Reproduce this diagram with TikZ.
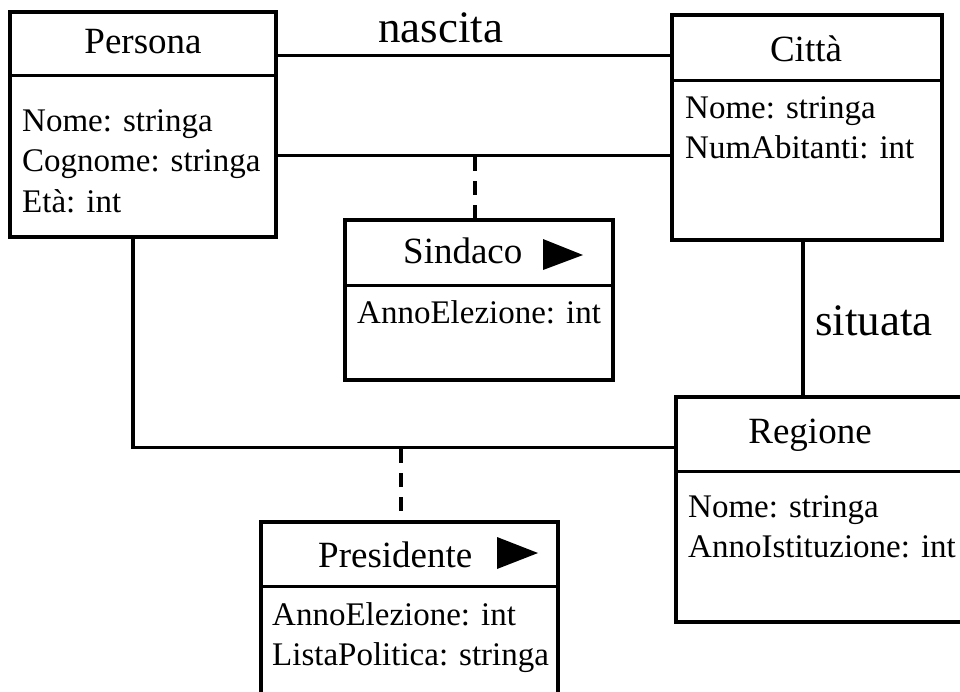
\documentclass[tikz,border=0pt]{standalone}
\usepackage{fontspec}
\setmainfont{Liberation Serif}
\begin{document}
\begin{tikzpicture}[x=1pt,y=-1pt,
  box/.style={draw, line width=3.5pt, inner sep=0pt},
  conn/.style={line width=3.5pt},
  dep/.style={line width=3.5pt, dash pattern=on 14pt off 10pt},
  title/.style={font=\fontsize{37}{44}\selectfont, inner sep=0pt, anchor=base},
  titlew/.style={font=\fontsize{37}{44}\selectfont, inner sep=0pt, anchor=base west},
  attr/.style={font=\fontsize{33}{40}\selectfont, inner sep=0pt, anchor=base west},
  lbl/.style={font=\fontsize{45}{54}\selectfont, inner sep=0pt, anchor=base west}]
\useasboundingbox (0,0) rectangle (960,691);
\fill[white] (0,0) rectangle (960,691);
\clip (0,0) rectangle (960,691);

% class boxes
\node[box, minimum width=266pt, minimum height=225pt] (persona) at (143,124.5) {};
\node[box, minimum width=270pt, minimum height=225pt] (citta) at (807,127.5) {};
\node[box, minimum width=268pt, minimum height=160pt] (sindaco) at (479,300) {};
\node[box, minimum width=304pt, minimum height=225pt] (regione) at (828,509.5) {};
\node[box, minimum width=297pt, minimum height=198pt] (presidente) at (409.5,621) {};

% dividers
\draw[conn] ([yshift=-65pt]persona.north west) -- ([yshift=-65pt]persona.north east);
\draw[conn] ([yshift=-67pt]citta.north west) -- ([yshift=-67pt]citta.north east);
\draw[conn] ([yshift=-67pt]sindaco.north west) -- ([yshift=-67pt]sindaco.north east);
\draw[conn] ([yshift=-76pt]regione.north west) -- ([yshift=-76pt]regione.north east);
\draw[conn] ([yshift=-66pt]presidente.north west) -- ([yshift=-66pt]presidente.north east);

% titles
\node[title] (tpersona) at (143,53) {Persona};
\node[title] (tcitta) at (806,61) {Città};
\node[titlew] (tsindaco) at (403,263) {Sindaco};
\node[title] (tregione) at (810,443) {Regione};
\node[titlew] (tpresidente) at (318,567) {Presidente};
\fill (543,239) -- (583,255) -- (543,270) -- cycle;
\fill (497,537) -- (538,553) -- (497,569) -- cycle;

% attributes
\node[attr] (p1) at (22,131) {Nome: stringa};
\node[attr] (p2) at (22,171) {Cognome: stringa};
\node[attr] (p3) at (22,212) {Età: int};
\node[attr] (c1) at (685,118) {Nome: stringa};
\node[attr] (c2) at (685,158) {NumAbitanti: int};
\node[attr] (s1) at (357,323) {AnnoElezione: int};
\node[attr] (r1) at (688,517) {Nome: stringa};
\node[attr] (r2) at (688,557) {AnnoIstituzione: int};
\node[attr] (e1) at (272,625) {AnnoElezione: int};
\node[attr] (e2) at (272,665) {ListaPolitica: stringa};

% associations
\draw[conn] ([yshift=-45pt]persona.north east) -- ([yshift=-42pt]citta.north west);
\draw[conn] ([yshift=-145pt]persona.north east) -- ([yshift=-142pt]citta.north west);
\draw[conn] ([xshift=-4pt]citta.south) -- ([xshift=-4pt]citta.south |- regione.north);
\draw[conn] ([xshift=-10pt]persona.south) |- ([yshift=-52pt]regione.north west);

% association classes
\coordinate (j1) at (475,157);
\coordinate (j2) at (401,449);
\draw[dep] (j1) -- (j1 |- sindaco.north);
\draw[dep] (j2) -- (j2 |- presidente.north);

% labels
\node[lbl] (lnascita) at (378,42) {nascita};
\node[lbl] (lsituata) at (815,335) {situata};
\end{tikzpicture}
\end{document}
